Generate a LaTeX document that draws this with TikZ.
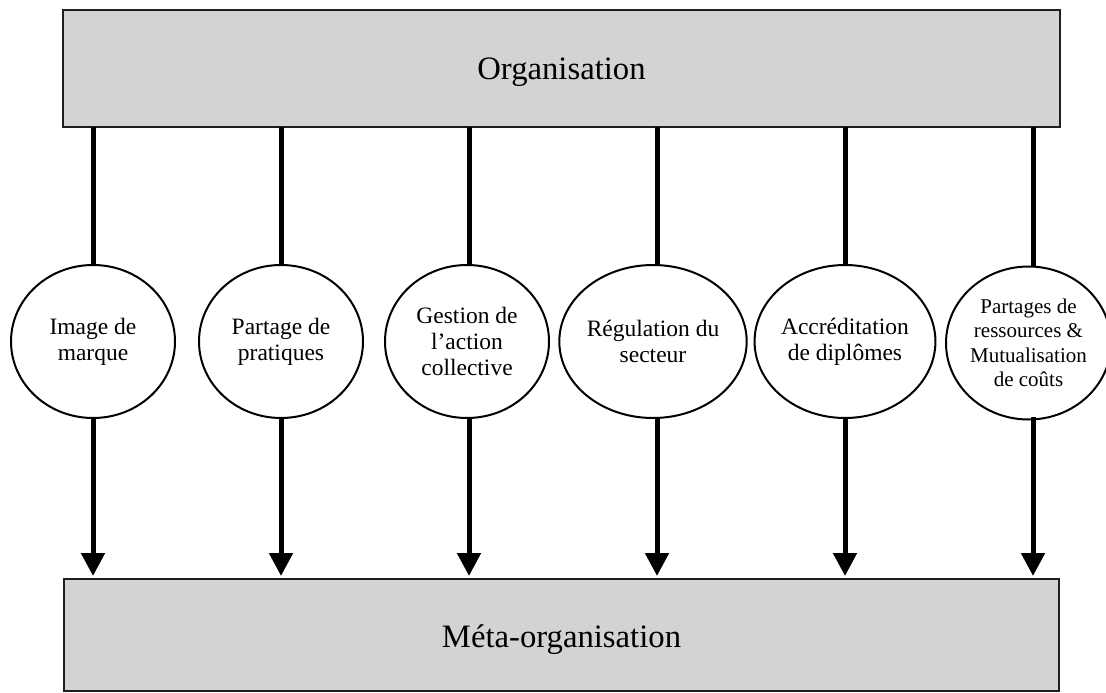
\documentclass[tikz,border=0pt]{standalone}
\usepackage{fontspec}
\setmainfont{Liberation Serif}
\usetikzlibrary{shapes.geometric,arrows.meta}
\definecolor{boxfill}{HTML}{D3D3D3}
\definecolor{boxline}{HTML}{1E1E1E}
\tikzset{
  bigbox/.style={draw=boxline, line width=2.6pt, fill=boxfill, inner sep=0pt, text depth=0pt, font=\fontsize{32.7}{38}\selectfont},
  bubble/.style={draw=black, line width=2pt, fill=white, ellipse, minimum width=164pt, minimum height=153pt, inner sep=0pt, align=center, font=\fontsize{23.5}{26}\selectfont},
  smallbubble/.style={bubble, minimum width=154pt, font=\fontsize{21}{24.5}\selectfont},
  link/.style={line width=5pt, black},
  arrowlink/.style={link, -{Triangle[width=23pt,length=23pt]}, shorten >=3pt},
}
\begin{document}
\begin{tikzpicture}[x=1pt,y=-1pt]
\useasboundingbox (0,0) rectangle (1106,693);
\node[bigbox, minimum width=997pt, minimum height=117pt] (org) at (561.5,68.5) {Organisation};
\node[bigbox, minimum width=995pt, minimum height=112pt] (meta) at (561.5,635) {\raisebox{-2.5pt}{Méta-organisation}};
\node[bubble] (c1) at (93,341.5) {Image de\\marque};
\node[bubble] (c2) at (281,341.5) {Partage de\\pratiques};
\node[bubble] (c3) at (467,341.5) {Gestion de\\l’action\\collective};
\node[bubble] (c4) at (653,341.5) {Régulation du\\secteur};
\node[bubble] (c5) at (845,341.5) {Accréditation\\de diplômes};
\node[smallbubble] (c6) at (1028.5,343) {Partages de\\ressources \&\\Mutualisation\\de coûts};
\foreach \i/\xx in {1/93,2/281,3/469,4/657,5/845,6/1033}{
  \coordinate (t\i) at (\xx,127);
  \coordinate (b\i) at (\xx,579);
  \coordinate (ct\i) at (\xx,266);
  \coordinate (cb\i) at (\xx,417);
  \draw[link] (t\i) -- (ct\i);
  \draw[arrowlink] (cb\i) -- (b\i);
}
\end{tikzpicture}
\end{document}
